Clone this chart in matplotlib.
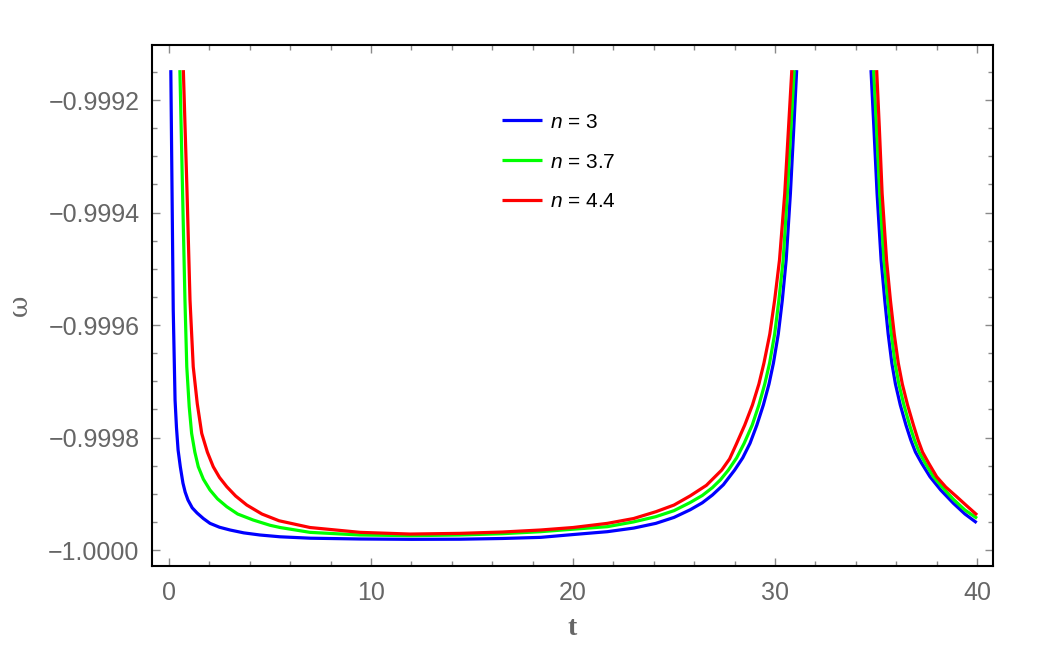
import matplotlib
matplotlib.use("Agg")
import matplotlib.pyplot as plt
from matplotlib.ticker import MultipleLocator, FuncFormatter

# ---- data ----
labels = ["$n$ = 3", "$n$ = 3.7", "$n$ = 4.4"]
colors = ["#0000FF", "#00FF00", "#FF0000"]

t_blue_left = [0.09, 0.15, 0.21, 0.30, 0.37, 0.45, 0.56, 0.69, 0.80, 0.94, 1.15, 1.39, 1.70, 2.03, 2.50,
               3.02, 3.70, 4.50, 5.50, 7.00, 9.46, 12.0, 14.4, 16.5, 18.4, 20.0, 21.7, 23.0, 24.1, 25.0,
               25.8, 26.4, 26.9, 27.44, 28.0, 28.4, 28.76, 29.1, 29.42, 29.7, 29.92, 30.16, 30.36, 30.55,
               30.76, 30.93, 31.07]
w_blue_left = [-0.9991467, -0.9993600, -0.9995733, -0.9997333, -0.9997820, -0.9998222, -0.9998520,
               -0.9998809, -0.9998970, -0.9999111, -0.9999250, -0.9999342, -0.9999440, -0.9999526,
               -0.9999595, -0.9999644, -0.9999695, -0.9999733, -0.9999765, -0.9999790, -0.9999804,
               -0.9999810, -0.9999808, -0.9999795, -0.9999775, -0.9999725, -0.9999674, -0.9999610,
               -0.9999526, -0.9999420, -0.9999284, -0.9999160, -0.9999022, -0.9998840, -0.9998578,
               -0.9998361, -0.9998103, -0.9997778, -0.9997422, -0.9997049, -0.9996676, -0.9996160,
               -0.9995556, -0.9994844, -0.9993659, -0.9992474, -0.9991467]
t_blue_right = [34.75, 34.89, 35.05, 35.25, 35.43, 35.60, 35.78, 35.96, 36.20, 36.48, 36.72, 36.95, 37.25,
                37.67, 38.2, 38.83, 39.4, 39.98]
w_blue_right = [-0.9991467, -0.9992474, -0.9993659, -0.9994844, -0.9995556, -0.9996160, -0.9996676,
                -0.9997049, -0.9997422, -0.9997778, -0.9998044, -0.9998258, -0.9998453, -0.9998697,
                -0.9998933, -0.9999170, -0.9999360, -0.9999515]

t_green_left = [0.54, 0.67, 0.79, 0.88, 1.0, 1.12, 1.28, 1.45, 1.7, 2.03, 2.4, 2.86, 3.4, 4.17, 5.0, 5.5,
                6.98, 9.46, 12.0, 14.4, 16.5, 18.4, 20.0, 21.7, 23.0, 24.1, 25.0, 25.8, 26.4, 26.9, 27.3,
                27.69, 28.1, 28.47, 28.87, 29.2, 29.49, 29.73, 29.98, 30.19, 30.40, 30.61, 30.79, 30.95]
w_green_left = [-0.9991467, -0.9993600, -0.9995556, -0.9996741, -0.9997450, -0.9997926, -0.9998260,
                -0.9998519, -0.9998740, -0.9998933, -0.9999090, -0.9999230, -0.9999360, -0.9999467,
                -0.9999560, -0.9999600, -0.9999686, -0.9999733, -0.9999745, -0.9999733, -0.9999710,
                -0.9999674, -0.9999630, -0.9999585, -0.9999500, -0.9999407, -0.9999300, -0.9999155,
                -0.9999030, -0.9998890, -0.9998750, -0.9998578, -0.9998361, -0.9998103, -0.9997778,
                -0.9997422, -0.9997049, -0.9996676, -0.9996160, -0.9995556, -0.9994844, -0.9993659,
                -0.9992474, -0.9991467]
t_green_right = [34.88, 35.02, 35.18, 35.39, 35.58, 35.76, 35.94, 36.13, 36.38, 36.66, 36.9, 37.13, 37.43,
                 37.84, 38.4, 38.83, 39.4, 40.0]
w_green_right = [-0.9991467, -0.9992474, -0.9993659, -0.9994844, -0.9995556, -0.9996160, -0.9996676,
                 -0.9997049, -0.9997422, -0.9997778, -0.9998044, -0.9998258, -0.9998453, -0.9998697,
                 -0.9998933, -0.9999099, -0.9999289, -0.9999436]

t_red_left = [0.71, 0.89, 1.04, 1.2, 1.4, 1.62, 1.9, 2.19, 2.5, 2.86, 3.3, 3.85, 4.6, 5.45, 6.98, 9.46,
              11.93, 14.4, 16.5, 18.4, 20.0, 21.7, 23.0, 24.1, 25.0, 25.8, 26.6, 27.36, 27.75, 28.08, 28.5,
              28.88, 29.2, 29.45, 29.74, 29.98, 30.22, 30.48, 30.67, 30.83]
w_red_left = [-0.9991467, -0.9993600, -0.9995556, -0.9996741, -0.9997400, -0.9997926, -0.9998260,
              -0.9998519, -0.9998710, -0.9998874, -0.9999040, -0.9999200, -0.9999360, -0.9999480,
              -0.9999600, -0.9999686, -0.9999716, -0.9999704, -0.9999680, -0.9999644, -0.9999600,
              -0.9999526, -0.9999440, -0.9999319, -0.9999200, -0.9999037, -0.9998850, -0.9998578,
              -0.9998380, -0.9998120, -0.9997778, -0.9997422, -0.9997049, -0.9996676, -0.9996160,
              -0.9995556, -0.9994844, -0.9993659, -0.9992474, -0.9991467]
t_red_right = [35.03, 35.16, 35.30, 35.52, 35.71, 35.9, 36.1, 36.3, 36.56, 36.85, 37.08, 37.3, 37.6, 38.0,
               38.45, 38.99, 39.5, 40.0]
w_red_right = [-0.9991467, -0.9992474, -0.9993659, -0.9994844, -0.9995556, -0.9996160, -0.9996676,
               -0.9997049, -0.9997422, -0.9997778, -0.9998044, -0.9998258, -0.9998453, -0.9998697,
               -0.9998880, -0.9999052, -0.9999218, -0.9999378]

x_ticks = [0, 10, 20, 30, 40]
y_ticks = [-1.0000, -0.9998, -0.9996, -0.9994, -0.9992]

# ---- figure ----
plt.rcParams['font.family'] = ['Liberation Sans', 'DejaVu Sans']
plt.rcParams['mathtext.fontset'] = 'custom'
plt.rcParams['mathtext.it'] = 'Liberation Sans:italic'
plt.rcParams['mathtext.rm'] = 'Liberation Sans'

fig = plt.figure(figsize=(10.42, 6.55), dpi=100)
ax = fig.add_axes([0.1459, 0.1359, 0.8071, 0.7954])

series = [
    (t_blue_left, w_blue_left, t_blue_right, w_blue_right),
    (t_green_left, w_green_left, t_green_right, w_green_right),
    (t_red_left, w_red_left, t_red_right, w_red_right),
]
for (tl, wl, tr, wr), c, lab in zip(series, colors, labels):
    ax.plot(tl, wl, color=c, lw=2.3, label=lab, solid_capstyle='butt', solid_joinstyle='round')
    ax.plot(tr, wr, color=c, lw=2.3, solid_capstyle='butt', solid_joinstyle='round')

ax.set_xlim(-0.84, 40.79)
ax.set_ylim(-1.0000284, -0.999102)

ax.set_xticks(x_ticks)
ax.set_yticks(y_ticks)
ax.xaxis.set_minor_locator(MultipleLocator(2))
ax.yaxis.set_minor_locator(MultipleLocator(0.00005))
ax.yaxis.set_major_formatter(FuncFormatter(lambda v, p: f"{v:.4f}".replace('-', '\u2212')))
ax.xaxis.set_major_formatter(FuncFormatter(lambda v, p: f"{int(round(v))}"))

ax.tick_params(which='both', direction='in', top=True, right=True, color='#8a8a8a', width=1.0,
               labelcolor='#666666', labelsize=18)
ax.tick_params(which='major', length=6)
ax.tick_params(which='minor', length=3.5)
ax.tick_params(axis='y', pad=9)
ax.tick_params(axis='x', pad=11)

for s in ax.spines.values():
    s.set_color('black')
    s.set_linewidth(1.5)

ax.set_xlabel('t', family='Liberation Serif', fontweight='bold', fontsize=20, color='#666666', labelpad=8)
ax.set_ylabel('ω', family='DejaVu Serif', fontsize=19, color='#666666', labelpad=12)

leg = ax.legend(loc='upper left', bbox_to_anchor=(0.394, 0.906), frameon=False, fontsize=15,
                handlelength=1.92, handletextpad=0.38, labelspacing=1.0, borderpad=0.4)
for line in leg.get_lines():
    line.set_linewidth(2.3)

fig.savefig('out.png', dpi=100)
